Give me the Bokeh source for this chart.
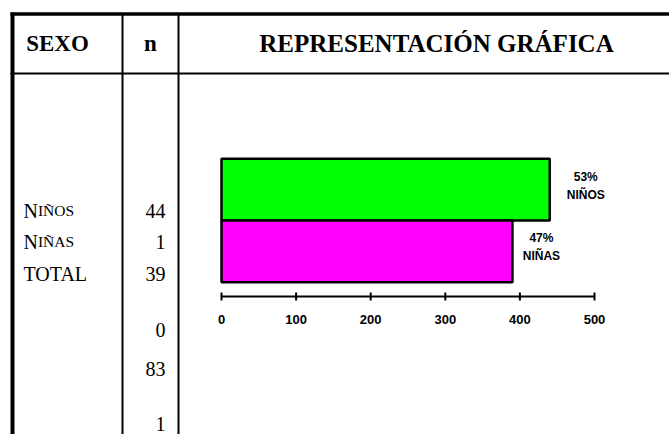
from bokeh.plotting import figure
from bokeh.models import Range1d, ColumnDataSource
from bokeh.core.properties import value
from bokeh.embed import file_html
from bokeh.resources import INLINE

# ---------------- data ----------------
sexo_labels = ["Niños", "Niñas", "TOTAL"]
n_values = ["44", "1", "39", "0", "83", "1"]
bar_names = ["NIÑOS", "NIÑAS"]
bar_values = [440, 390]
bar_pcts = ["53%", "47%"]
bar_colors = ["#00FF00", "#FF00FF"]
axis_ticks = [0, 100, 200, 300, 400, 500]
header_labels = ["SEXO", "n", "REPRESENTACIÓN GRÁFICA"]

# ---------------- layout (page pixels) ----------------
W, H = 669, 434
label_dx = [36, 29]          # label offsets right of bar ends (px)

# value scale: 0 -> x 221, 500 -> x 594
v0_px, v500_px = 221, 594
k = (v500_px - v0_px) / 500.0
val_start = -v0_px / k
val_end = (W - v0_px) / k
# category scale: bar 0 top at y 158.3, each bar 61.7 px tall
bar_top, bar_h = 158.3, 61.7
cat_top = -0.5 - bar_top / bar_h
cat_bot = cat_top + H / bar_h

p = figure(width=W, height=H, output_backend="svg", toolbar_location=None,
           x_range=Range1d(0, W), y_range=Range1d(H, 0),
           min_border=0, min_border_left=0, min_border_right=0,
           min_border_top=0, min_border_bottom=0)
p.axis.visible = False
p.grid.visible = False
p.outline_line_color = None
p.background_fill_color = "white"
p.border_fill_color = "white"
p.extra_x_ranges = {"val": Range1d(val_start, val_end)}
p.extra_y_ranges = {"cat": Range1d(cat_bot, cat_top)}

# ---------------- table rules ----------------
p.segment(x0=[10], y0=[13.5], x1=[W + 5], y1=[13.5], line_color="black", line_width=3.5)
p.segment(x0=[12], y0=[12], x1=[12], y1=[H + 5], line_color="black", line_width=4)
p.segment(x0=[122, 178], y0=[13, 13], x1=[122, 178], y1=[H + 5, H + 5],
          line_color="black", line_width=2)
p.segment(x0=[10], y0=[73], x1=[W + 5], y1=[73], line_color="black", line_width=2)

# ---------------- headers ----------------
p.text(x=[57, 150], y=[43, 43], text=header_labels[:2], text_align="center", text_baseline="middle",
       text_font=value("Liberation Serif"), text_font_style="bold", text_font_size="23px",
       text_color="black")
p.text(x=[436], y=[43], text=header_labels[2:], text_align="center", text_baseline="middle",
       text_font=value("Liberation Serif"), text_font_style="bold", text_font_size="25px",
       text_color="black")

# ---------------- SEXO column (small caps style) ----------------
row_y = [210, 241, 273]
first = []
rest = []
for s in sexo_labels:
    if s.isupper():
        first.append(s)
        rest.append("")
    else:
        first.append(s[0])
        rest.append(s[1:].upper())
fs_big = 20
p.text(x=[23] * 3, y=row_y, text=first, text_align="left", text_baseline="alphabetic",
       text_font=value("Liberation Serif"), text_font_size=f"{fs_big}px", text_color="black")
p.text(x=[23 + 0.722 * fs_big] * 3, y=row_y, text=rest, text_align="left", text_baseline="alphabetic",
       text_font=value("Liberation Serif"), text_font_size="15.5px", text_color="black")

# ---------------- n column ----------------
n_y = [210, 241, 273, 329, 368, 423]
p.text(x=[165] * len(n_values), y=n_y, text=n_values, text_align="right", text_baseline="alphabetic",
       text_font=value("Liberation Serif"), text_font_size=f"{fs_big}px", text_color="black")

# ---------------- bars ----------------
src = ColumnDataSource(dict(cat=list(range(len(bar_values))), val=bar_values,
                            color=bar_colors, name=bar_names, pct=bar_pcts, dx=label_dx))
p.hbar(y="cat", left=0, right="val", height=1.0, fill_color="color", line_color="black",
       line_width=2.5, source=src, x_range_name="val", y_range_name="cat")
p.text(x="val", y="cat", text="pct", source=src, x_range_name="val", y_range_name="cat",
       x_offset="dx", y_offset=-13, text_align="center", text_baseline="middle",
       text_font=value("Liberation Sans"), text_font_style="bold", text_font_size="12px",
       text_color="black")
p.text(x="val", y="cat", text="name", source=src, x_range_name="val", y_range_name="cat",
       x_offset="dx", y_offset=5, text_align="center", text_baseline="middle",
       text_font=value("Liberation Sans"), text_font_style="bold", text_font_size="12px",
       text_color="black")

# ---------------- axis ----------------
ax_y = 296
p.segment(x0=[axis_ticks[0]], y0=[ax_y], x1=[axis_ticks[-1]], y1=[ax_y], line_color="black",
          line_width=2, x_range_name="val")
p.segment(x0=axis_ticks, y0=[ax_y - 4] * len(axis_ticks), x1=axis_ticks, y1=[ax_y + 4] * len(axis_ticks),
          line_color="black", line_width=2, x_range_name="val")
p.text(x=axis_ticks, y=[319] * len(axis_ticks), text=[str(t) for t in axis_ticks],
       x_range_name="val", text_align="center", text_baseline="middle",
       text_font=value("Liberation Sans"), text_font_style="bold", text_font_size="13px",
       text_color="black")

open("out.html", "w").write(file_html(p, INLINE))
